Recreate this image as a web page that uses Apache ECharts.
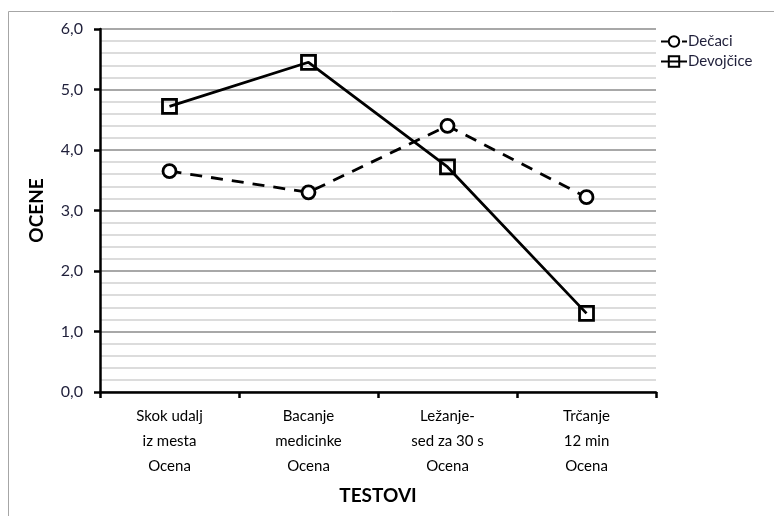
<!DOCTYPE html>
<html>
<head>
<meta charset="utf-8">
<script src="https://cdn.jsdelivr.net/npm/echarts@6/dist/echarts.min.js"></script>
<style>
  html, body { margin: 0; padding: 0; background: #fff; }
  #chart { width: 774px; height: 516px; }
</style>
</head>
<body>
<div id="chart"></div>
<script>
// podaci
const testovi = ['Skok udalj\niz mesta\nOcena', 'Bacanje\nmedicinke\nOcena', 'Ležanje-\nsed za 30 s\nOcena', 'Trčanje\n12 min\nOcena']
const decaci = [3.65, 3.3, 4.4, 3.22]
const devojcice = [4.72, 5.45, 3.72, 1.3]

const chart = echarts.init(document.getElementById('chart'))
const font = 'Lato, "Open Sans", sans-serif'

chart.setOption({
  animation: false,
  textStyle: { fontFamily: font },
  graphic: [
    {
      type: 'rect',
      shape: { x: 8.5, y: 11.5, width: 800, height: 600 },
      style: { fill: 'none', stroke: '#a6a6a6', lineWidth: 1 },
      silent: true
    }
  ],
  grid: { left: 100, top: 29, right: 118, bottom: 124 },
  legend: {
    orient: 'vertical',
    left: 655,
    top: 29,
    itemGap: 5,
    itemWidth: 26,
    itemHeight: 13,
    textStyle: { fontSize: 15, color: '#1f1f3a', fontFamily: font, padding: [0, 0, 0, -4] },
    data: ['Dečaci', 'Devojčice']
  },
  xAxis: {
    type: 'category',
    data: testovi,
    name: 'TESTOVI',
    nameLocation: 'middle',
    nameGap: 94,
    nameTextStyle: { fontSize: 19, fontWeight: 'bold', color: '#000', fontFamily: font },
    axisLine: { lineStyle: { color: '#000', width: 2.5 } },
    axisTick: { show: true, length: 6, lineStyle: { color: '#000', width: 2.5 } },
    axisLabel: { fontSize: 15, color: '#000', lineHeight: 25, margin: 12 }
  },
  yAxis: {
    type: 'value',
    min: 0,
    max: 6,
    interval: 1,
    name: 'OCENE',
    nameLocation: 'middle',
    nameGap: 54,
    nameRotate: 90,
    nameTextStyle: { fontSize: 19, fontWeight: 'bold', color: '#000', fontFamily: font },
    axisLine: { show: true, lineStyle: { color: '#000', width: 2.5 } },
    axisTick: { show: true, length: 6, lineStyle: { color: '#000', width: 2.5 } },
    axisLabel: {
      fontSize: 16,
      color: '#1f1f3a',
      margin: 17,
      formatter: (v) => v.toFixed(1).replace('.', ',')
    },
    splitLine: { lineStyle: { color: '#a8a8a8', width: 2 } },
    minorTick: { show: false, splitNumber: 5 },
    minorSplitLine: { show: true, lineStyle: { color: '#dcdcdc', width: 2 } }
  },
  series: [
    {
      name: 'Dečaci',
      type: 'line',
      data: decaci,
      symbol: 'circle',
      symbolSize: 13,
      lineStyle: { color: '#000', width: 2.8, type: [12, 9] },
      itemStyle: { color: '#fff', borderColor: '#000', borderWidth: 2.8 }
    },
    {
      name: 'Devojčice',
      type: 'line',
      data: devojcice,
      symbol: 'rect',
      symbolSize: 14,
      lineStyle: { color: '#000', width: 2.8 },
      itemStyle: { color: 'rgba(255,255,255,0)', borderColor: '#000', borderWidth: 2.8 }
    }
  ]
})
</script>
</body>
</html>
